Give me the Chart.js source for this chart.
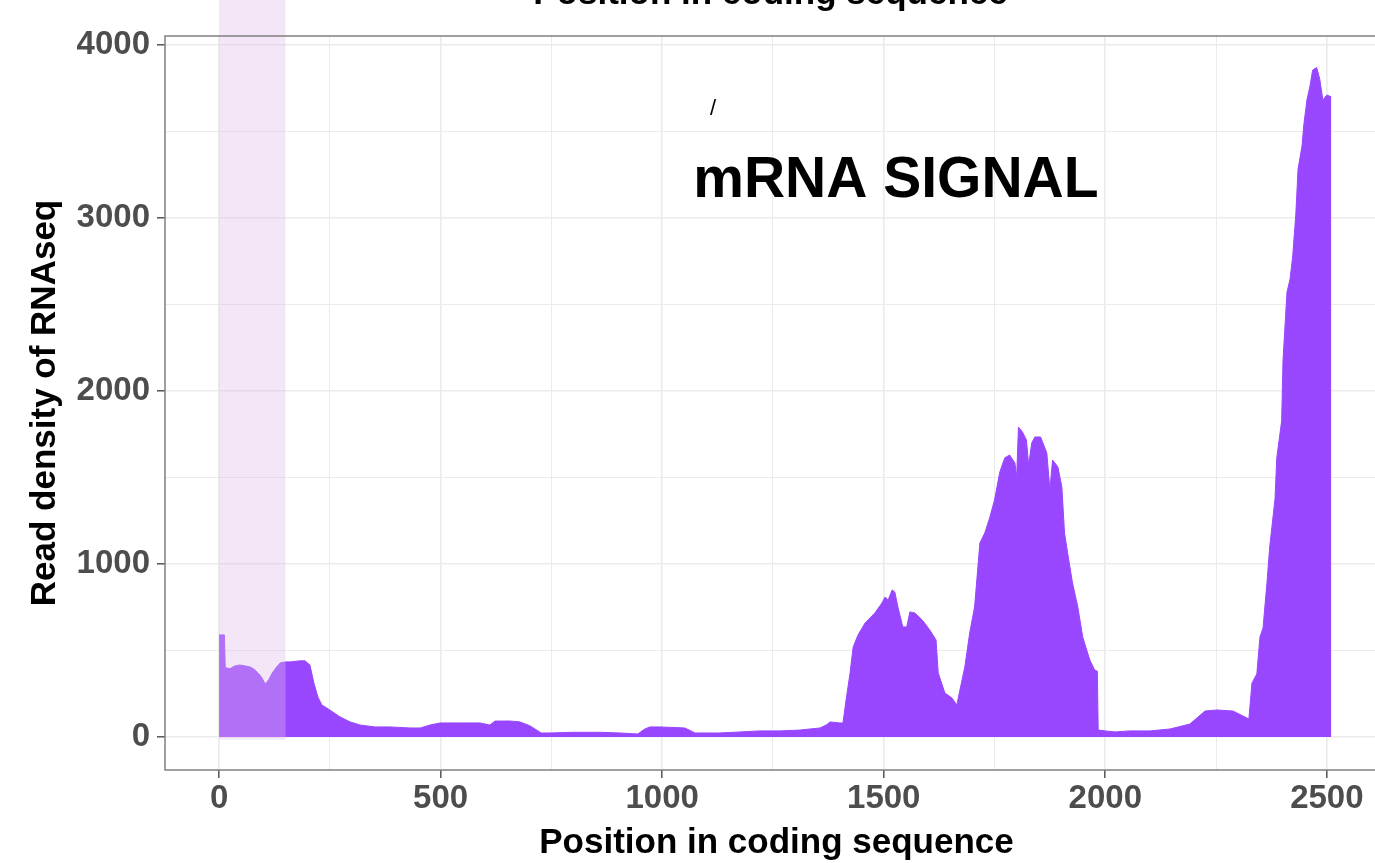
<!DOCTYPE html>
<html>
<head>
<meta charset="utf-8">
<script src="https://cdn.jsdelivr.net/npm/chart.js@4/dist/chart.umd.min.js"></script>
<style>
  html, body { margin: 0; padding: 0; background: #fff; overflow: hidden; }
  #chart { position: absolute; left: 0; top: 0; }
</style>
</head>
<body>
<canvas id="chart" width="1388" height="863"></canvas>
<script>
// positions along the CDS (nt) and RNAseq read density
const positions = [
  0, 12, 14, 25, 35, 47, 60, 70, 80, 88, 96, 104, 112, 120, 130, 138, 149, 160, 183, 194,
  205, 214, 223, 232, 250, 273, 296, 318, 352, 386, 431, 454, 476, 499, 544, 589, 611, 623, 657, 679,
  702, 727, 747, 800, 860, 905, 945, 960, 972, 995, 1051, 1065, 1074, 1130, 1175, 1220, 1266, 1311, 1356, 1370,
  1379, 1401, 1408, 1415, 1424, 1431, 1442, 1458, 1480, 1496, 1503, 1510, 1519, 1525, 1532, 1543, 1552, 1559, 1570, 1587,
  1604, 1618, 1623, 1638, 1654, 1665, 1672, 1683, 1694, 1705, 1717, 1728, 1739, 1750, 1762, 1773, 1784, 1796, 1800, 1804,
  1813, 1822, 1827, 1834, 1841, 1854, 1868, 1875, 1881, 1893, 1902, 1908, 1915, 1926, 1938, 1949, 1965, 1976, 1982, 1984,
  2000, 2022, 2055, 2101, 2146, 2191, 2225, 2252, 2288, 2311, 2324, 2331, 2342, 2349, 2356, 2365, 2371, 2383, 2387, 2398,
  2401, 2410, 2417, 2423, 2430, 2435, 2444, 2448, 2455, 2462, 2468, 2477, 2484, 2491, 2500, 2510
];
const readDensity = [
  590, 590, 400, 395, 410, 416, 410, 405, 390, 370, 345, 306, 330, 370, 405, 428, 434, 434, 440, 440,
  416, 312, 231, 185, 156, 116, 87, 69, 58, 58, 52, 52, 69, 81, 81, 81, 69, 92, 92, 87,
  64, 23, 23, 27, 27, 23, 17, 45, 58, 58, 52, 35, 23, 23, 29, 35, 35, 40, 52, 69,
  87, 81, 81, 214, 370, 520, 590, 659, 717, 775, 809, 792, 850, 838, 751, 636, 636, 723, 717, 676,
  618, 561, 370, 254, 225, 185, 272, 405, 601, 751, 1121, 1179, 1266, 1370, 1532, 1613, 1630, 1584, 1503, 1792,
  1763, 1717, 1572, 1700, 1734, 1734, 1642, 1428, 1601, 1561, 1445, 1179, 1064, 890, 751, 578, 445, 387, 380, 40,
  35, 29, 35, 35, 46, 75, 150, 156, 150, 121, 104, 312, 364, 578, 630, 896, 1098, 1376, 1613, 1827,
  2173, 2572, 2647, 2780, 3023, 3283, 3416, 3538, 3682, 3763, 3855, 3870, 3803, 3682, 3711, 3700
];

// grid positions (major ones get labels and tick marks)
const xGrid = [0, 250, 500, 750, 1000, 1250, 1500, 1750, 2000, 2250, 2500];
const xLabels = [0, 500, 1000, 1500, 2000, 2500];
const yGrid = [0, 500, 1000, 1500, 2000, 2500, 3000, 3500, 4000];
const yLabels = [0, 1000, 2000, 3000, 4000];
const xRange = [-122, 2638];
const yRange = [-191, 4052];

// shaded window at the start of the CDS
const bandStart = 0, bandEnd = 150, bandBottom = -15;
const signalLabel = 'mRNA SIGNAL';
const signalPos = [1070, 3121];
const slashPos = [1115, 3630];

const FONT = '"Liberation Sans", Arial, sans-serif';
const purple = '#9946ff';

const annotate = {
  id: 'annotate',
  afterDatasetsDraw(chart) {
    const { ctx, chartArea, scales: { x, y } } = chart;
    ctx.save();
    const x0 = x.getPixelForValue(bandStart);
    const x1 = x.getPixelForValue(bandEnd);
    ctx.fillStyle = 'rgba(221,186,232,0.36)';
    ctx.fillRect(x0, 0, x1 - x0, y.getPixelForValue(bandBottom));

    // panel border
    ctx.strokeStyle = '#808080';
    ctx.lineWidth = 1.5;
    ctx.strokeRect(chartArea.left, chartArea.top, chartArea.right - chartArea.left, chartArea.bottom - chartArea.top);

    ctx.fillStyle = '#000';
    ctx.textAlign = 'left';
    ctx.textBaseline = 'alphabetic';
    ctx.font = 'bold 57px ' + FONT;
    ctx.fillText(signalLabel, x.getPixelForValue(signalPos[0]), y.getPixelForValue(signalPos[1]));

    ctx.textAlign = 'center';
    ctx.textBaseline = 'middle';
    ctx.font = '22px ' + FONT;
    ctx.fillText('/', x.getPixelForValue(slashPos[0]), y.getPixelForValue(slashPos[1]));

    // title of the panel above, cut off by the crop
    ctx.textBaseline = 'alphabetic';
    ctx.font = 'bold 35px ' + FONT;
    ctx.fillText('Position in coding sequence', (chartArea.left + chartArea.right) / 2 - 6, 4);
    ctx.restore();
  }
};

const gridColor = '#ebebeb';
const isMajor = (list) => (c) => c.tick && list.includes(c.tick.value);

new Chart(document.getElementById('chart').getContext('2d'), {
  type: 'line',
  data: {
    datasets: [{
      data: positions.map((p, i) => ({ x: p, y: readDensity[i] })),
      borderColor: purple,
      backgroundColor: purple,
      borderWidth: 1,
      pointRadius: 0,
      tension: 0,
      fill: 'origin'
    }]
  },
  options: {
    responsive: false,
    animation: false,
    devicePixelRatio: 1,
    layout: { padding: { top: 36, left: 0, right: 0, bottom: 0 } },
    plugins: { legend: { display: false }, tooltip: { enabled: false } },
    scales: {
      x: {
        type: 'linear',
        min: xRange[0],
        max: xRange[1],
        afterBuildTicks: (s) => { s.ticks = xGrid.map((v) => ({ value: v })); },
        afterFit: (s) => { s.height = 93; },
        border: { display: false },
        grid: {
          color: gridColor,
          lineWidth: (c) => (isMajor(xLabels)(c) ? 1.6 : 1),
          tickColor: (c) => (isMajor(xLabels)(c) ? '#555' : 'rgba(0,0,0,0)'),
          tickLength: 8,
          tickWidth: 1.5
        },
        ticks: {
          autoSkip: false,
          maxRotation: 0,
          padding: 1,
          color: '#4d4d4d',
          font: { family: FONT, size: 33, weight: 'bold' },
          callback: (v) => (xLabels.includes(v) ? String(v) : '')
        },
        title: {
          display: true,
          text: 'Position in coding sequence',
          color: '#000',
          font: { family: FONT, size: 35, weight: 'bold', lineHeight: 1.1 },
          padding: { top: 0, bottom: 0 }
        }
      },
      y: {
        min: yRange[0],
        max: yRange[1],
        afterBuildTicks: (s) => { s.ticks = yGrid.map((v) => ({ value: v })); },
        afterFit: (s) => { s.width = 165; },
        border: { display: false },
        grid: {
          color: gridColor,
          lineWidth: (c) => (isMajor(yLabels)(c) ? 1.6 : 1),
          tickColor: (c) => (isMajor(yLabels)(c) ? '#555' : 'rgba(0,0,0,0)'),
          tickLength: 8,
          tickWidth: 1.5
        },
        ticks: {
          autoSkip: false,
          padding: 7,
          color: '#4d4d4d',
          font: { family: FONT, size: 33, weight: 'bold' },
          callback: (v) => (yLabels.includes(v) ? String(v) : '')
        },
        title: {
          display: true,
          text: 'Read density of RNAseq',
          color: '#000',
          font: { family: FONT, size: 35, weight: 'bold' },
          padding: { top: 24, bottom: 0 }
        }
      }
    }
  },
  plugins: [annotate]
});
</script>
</body>
</html>
